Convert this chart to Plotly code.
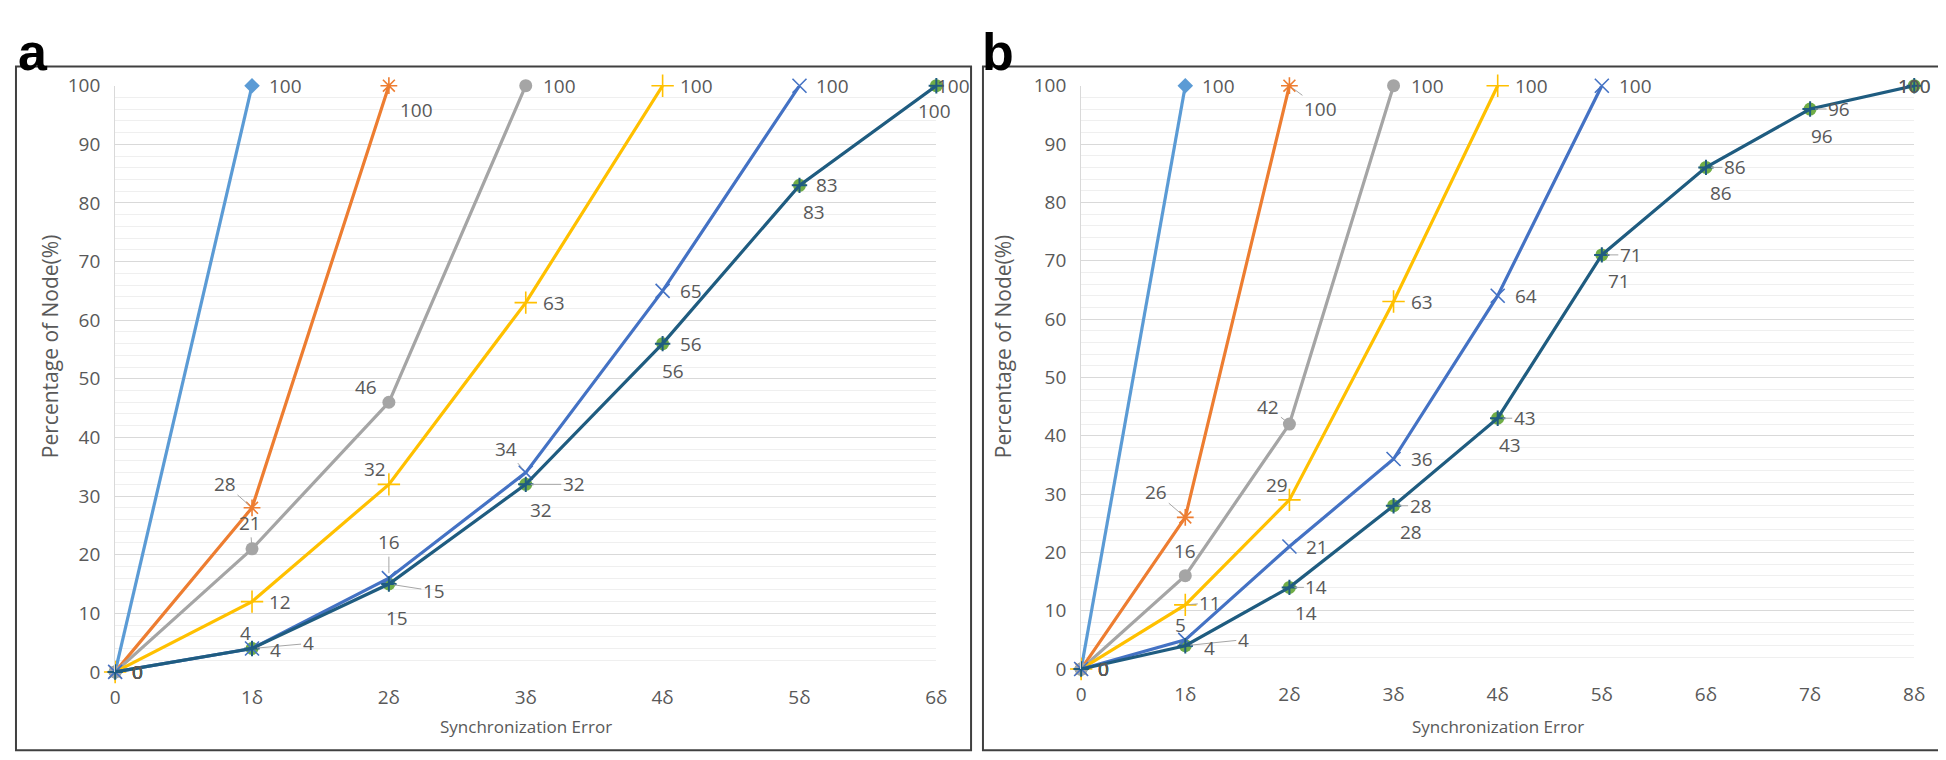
import plotly.graph_objects as go

# ---- data ----
ticks_a = ["0", "1δ", "2δ", "3δ", "4δ", "5δ", "6δ"]
ticks_b = ["0", "1δ", "2δ", "3δ", "4δ", "5δ", "6δ", "7δ", "8δ"]

a_s1 = [0, 100]
a_s2 = [0, 28, 100]
a_s3 = [0, 21, 46, 100]
a_s4 = [0, 12, 32, 63, 100]
a_s5 = [0, 4, 16, 34, 65, 100]
a_s6 = [0, 4, 15, 32, 56, 83, 100]
a_s7 = [0, 4, 15, 32, 56, 83, 100]

b_s1 = [0, 100]
b_s2 = [0, 26, 100]
b_s3 = [0, 16, 42, 100]
b_s4 = [0, 11, 29, 63, 100]
b_s5 = [0, 5, 21, 36, 64, 100]
b_s6 = [0, 4, 14, 28, 43, 71, 86, 96, 100]
b_s7 = [0, 4, 14, 28, 43, 71, 86, 96, 100]

# ---- label placement (pixel offsets of label centre from the point, leader flag) ----
# "r" = right of point, tuples = (dx, dy) or ("L", dx, dy) with leader line
lab_a = [
    ["r", "r"],
    ["r", ("L", -27, -24), (28, 24)],
    ["r", ("L", -2, -26), (-23, -15), "r"],
    ["r", "r", (-14, -15), "r", "r"],
    ["r", (-7, -15), ("L", 0, -36), ("L", -20, -24), "r", "r"],
    ["r", ("L", 56, -5), ("L", 45, 7), ("L", 48, 0), "r", "r", (17, 0)],
    ["r", (23, 2), (8, 34), (15, 26), (10, 27), (15, 27), (-2, 25)],
]
lab_b = [
    ["r", "r"],
    ["r", ("L", -29, -25), ("L", 31, 23)],
    ["r", (0, -25), ("L", -21, -17), "r"],
    ["r", ("L", 25, -2), (-12, -15), "r", "r"],
    ["r", ("L", -5, -15), "r", "r", "r", "r"],
    ["r", ("L", 58, -6), ("L", 27, 0), ("L", 27, 0), ("L", 27, 0), ("L", 29, 0), ("L", 29, 0), ("L", 29, 0), (0, 0)],
    ["r", (24, 2), (17, 26), (17, 26), (12, 27), (17, 26), (15, 26), (12, 27), (0, 0)],
]

colors = ["#5B9BD5", "#ED7D31", "#A5A5A5", "#FFC000", "#4472C4", "#1F5C80", "#70AD47"]
markers = [
    dict(symbol="diamond", size=12, color=colors[0]),
    dict(symbol="asterisk-open", size=14, line=dict(color=colors[1], width=1.6)),
    dict(symbol="circle", size=13, color=colors[2]),
    dict(symbol="cross-thin-open", size=16, line=dict(color=colors[3], width=1.6)),
    dict(symbol="x-thin-open", size=14, line=dict(color=colors[4], width=1.6)),
    dict(symbol="cross-thin-open", size=11, line=dict(color=colors[5], width=2)),
    dict(symbol="circle", size=13, color=colors[6]),
]

W, H = 1946, 760
FONT = "Open Sans"
TXT = "#595959"

fig = go.Figure()


def px(x):
    return x / W


def py(y):
    return 1 - y / H


def panel(series, labels, ticks, xa, ya):
    xr = "x" if xa == 1 else "x%d" % xa
    yr = "y" if ya == 1 else "y%d" % ya
    # green circle series drawn first so the dark line lies over it
    order = [6, 0, 1, 2, 3, 4, 5]
    for i in order:
        vals = series[i]
        xs = list(range(len(vals)))
        fig.add_trace(go.Scatter(
            x=xs, y=vals, xaxis=xr, yaxis=yr,
            mode="markers" if i == 6 else "lines+markers",
            line=dict(color=colors[i], width=3.2),
            marker=markers[i], cliponaxis=False, showlegend=False,
            hoverinfo="skip",
        ))
    for i, vals in enumerate(series):
        for j, v in enumerate(vals):
            t = str(v)
            spec = labels[i][j]
            leader = False
            if spec == "r":
                dx, dy = 17 + 5.5 * len(t), 0
            elif spec[0] == "L":
                leader, dx, dy = True, spec[1], spec[2]
            else:
                dx, dy = spec
            fig.add_annotation(
                x=j, y=v, xref=xr, yref=yr, text=t, showarrow=True,
                ax=dx, ay=dy, arrowhead=0, arrowwidth=1, standoff=5,
                arrowcolor="#a6a6a6" if leader else "rgba(0,0,0,0)",
                font=dict(family=FONT, size=19, color=TXT),
            )


panel([a_s1, a_s2, a_s3, a_s4, a_s5, a_s6, a_s7], lab_a, ticks_a, 1, 1)
panel([b_s1, b_s2, b_s3, b_s4, b_s5, b_s6, b_s7], lab_b, ticks_b, 2, 2)

yaxis_common = dict(
    range=[0, 100], dtick=10, showgrid=True, gridcolor="#d9d9d9", gridwidth=1,
    minor=dict(dtick=2, showgrid=True, gridcolor="#efefef", gridwidth=1),
    zeroline=False, showline=True, linecolor="#d9d9d9", linewidth=1,
    ticks="", ticklabelstandoff=10,
    tickfont=dict(family=FONT, size=19, color=TXT),
)
xaxis_common = dict(
    showgrid=False, zeroline=False, showline=False, ticks="",
    ticklabelstandoff=12,
    tickfont=dict(family=FONT, size=19, color=TXT),
)

fig.update_layout(
    width=W, height=H, margin=dict(l=0, r=0, t=0, b=0),
    paper_bgcolor="white", plot_bgcolor="white",
    xaxis=dict(xaxis_common, domain=[px(103), px(931)], range=[0, 6],
               tickvals=list(range(len(ticks_a))), ticktext=ticks_a, anchor="y"),
    yaxis=dict(yaxis_common, domain=[py(674), py(67)], anchor="x"),
    xaxis2=dict(xaxis_common, domain=[px(1077), px(1917)], range=[0, 8],
                tickvals=list(range(len(ticks_b))), ticktext=ticks_b, anchor="y2"),
    yaxis2=dict(yaxis_common, domain=[py(671), py(67)], anchor="x2"),
)

# panel frames
for x0, x1 in [(3, 966), (978, 1942)]:
    fig.add_shape(type="rect", xref="paper", yref="paper",
                  x0=px(x0), x1=px(x1), y0=py(755), y1=py(47),
                  line=dict(color="#404040", width=2), fillcolor="rgba(0,0,0,0)")

# panel letters
for x, letter in [(3, "a"), (975, "b")]:
    fig.add_annotation(xref="paper", yref="paper", x=px(x), y=py(0),
                       xanchor="left", yanchor="top", showarrow=False,
                       text="<b>%s</b>" % letter,
                       font=dict(family="Liberation Sans", size=52, color="black"))

# axis titles
for cx, ty in [(517, 38), (1497, 999)]:
    fig.add_annotation(xref="paper", yref="paper", x=px(cx), y=py(730),
                       xanchor="center", yanchor="middle",
                       showarrow=False, text="Synchronization Error",
                       font=dict(family=FONT, size=17, color=TXT))
    fig.add_annotation(xref="paper", yref="paper", x=px(ty), y=py(337),
                       xanchor="center", yanchor="middle",
                       showarrow=False, text="Percentage of Node(%)", textangle=-90,
                       font=dict(family=FONT, size=21, color=TXT))

fig.write_html("out.html")
